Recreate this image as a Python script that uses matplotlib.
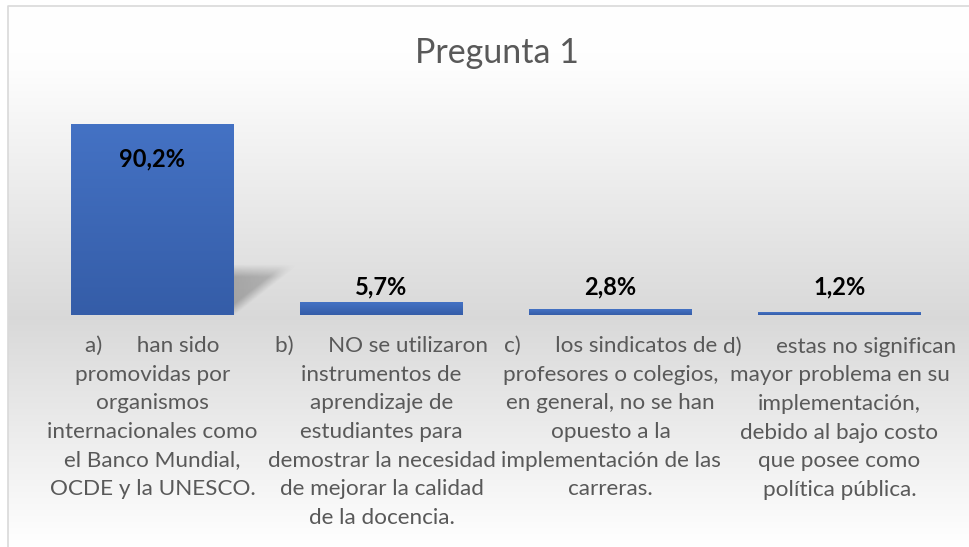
import matplotlib.pyplot as plt
import numpy as np

# datos
categorias = [
    "a)      han sido\npromovidas por\norganismos\ninternacionales como\nel Banco Mundial,\nOCDE y la UNESCO.",
    "b)      NO se utilizaron\ninstrumentos de\naprendizaje de\nestudiantes para\ndemostrar la necesidad\nde mejorar la calidad\nde la docencia.",
    "c)      los sindicatos de\nprofesores o colegios,\nen general, no se han\nopuesto a la\nimplementación de las\ncarreras.",
    "d)      estas no significan\nmayor problema en su\nimplementación,\ndebido al bajo costo\nque posee como\npolítica pública.",
]
valores = [90.2, 5.7, 2.8, 1.2]
etiquetas = ["90,2%", "5,7%", "2,8%", "1,2%"]
titulo = "Pregunta 1"

W, H = 970, 547
plt.rcParams['font.family'] = ['Lato', 'DejaVu Sans']
gris_texto = '#595959'

fig = plt.figure(figsize=(W / 100, H / 100), dpi=100)

# fondo con degradado (blanco -> gris -> blanco)
bg = fig.add_axes([0, 0, 1, 1])
bg.set_xlim(0, W)
bg.set_ylim(H, 0)
bg.axis('off')
yy = np.arange(H)
g = np.interp(yy, [0, 60, 315, 545], [1.0, 0.995, 0.85, 1.0])
grad = np.repeat(g[:, None], 2, axis=1)
bg.imshow(np.dstack([grad, grad, grad]), extent=[8, W, H, 6], aspect='auto', zorder=0)
bg.plot([8, 8, W], [H, 6, 6], color='#d9d9d9', lw=1.2, zorder=1)

# area de trazado
x0, x1, ybase, ytop = 38, 954, 315, 104
ax = fig.add_axes([x0 / W, 1 - ybase / H, (x1 - x0) / W, (ybase - ytop) / H])
ax.patch.set_alpha(0)
x = np.arange(len(valores))
ancho = 0.71
for s in ax.spines.values():
    s.set_visible(False)
ax.set_xticks([])
ax.set_yticks([])

barras = ax.bar(x, valores, width=ancho, color='none', zorder=3)

# degradado azul en cada barra
col_sup = np.array([68, 114, 196]) / 255
col_inf = np.array([53, 93, 168]) / 255
t = np.linspace(0, 1, 64)[:, None]
azul = (col_sup * (1 - t) + col_inf * t)[:, None, :]
for b in barras:
    bx, by = b.get_x(), b.get_y()
    bw, bh = b.get_width(), b.get_height()
    ax.imshow(azul, extent=[bx, bx + bw, by, by + bh], aspect='auto',
              interpolation='bilinear', zorder=3)

# sombra de la barra grande
b0 = barras[0]
xr = b0.get_x() + b0.get_width()
sw, sh = 0.31, 24.0
nx, ny = 120, 80
u = np.linspace(0, 1, nx)[None, :]
v = np.linspace(1, 0, ny)[:, None]   # 1 arriba, 0 abajo
borde = v * 0.85 + 0.08 - u            # >0 dentro del triangulo
a = np.clip(borde / 0.2, 0, 1) * np.clip((1 - v) / 0.25, 0, 1)
a = a * (1 - 0.4 * u) * 0.4
sombra = np.zeros((ny, nx, 4))
sombra[..., :3] = 0.3
sombra[..., 3] = a
ax.imshow(sombra, extent=[xr - 0.02, xr + sw, 0, sh], aspect='auto',
          interpolation='bilinear', zorder=2)
ax.set_xlim(-0.5, len(valores) - 0.5)
ax.set_ylim(0, 100)

# etiquetas de datos
for xi, v_, et in zip(x, valores, etiquetas):
    yl = v_ - 16 if v_ > 20 else 13.3
    ax.text(xi, yl, et, ha='center', va='center', fontsize=17,
            fontweight='bold', color='black', zorder=5)

# etiquetas de categoria
for xi, c in zip(x, categorias):
    ax.annotate(c, xy=(xi, 0), xycoords='data', xytext=(0, -21),
                textcoords='offset pixels', ha='center', va='top',
                fontsize=16.2, color=gris_texto, linespacing=1.54)

fig.text(497 / W, 1 - 53 / H, titulo, ha='center', va='center',
         fontsize=24.5, color=gris_texto)

fig.savefig('out.png', dpi=100)
